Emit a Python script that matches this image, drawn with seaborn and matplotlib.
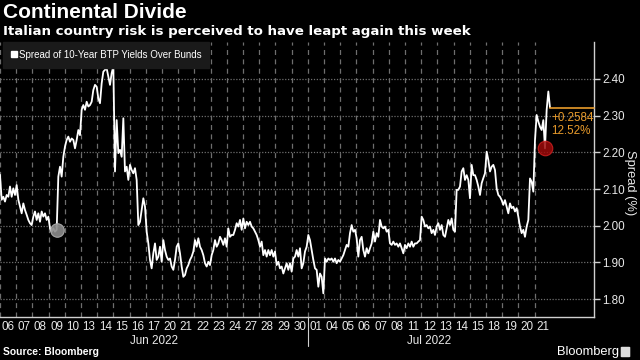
import numpy as np
import pandas as pd
import matplotlib
matplotlib.use("Agg")
import matplotlib.pyplot as plt
import matplotlib.transforms as mtransforms
from matplotlib.lines import Line2D
from matplotlib.patches import FancyBboxPatch
import seaborn as sns

# trading days shown on the x axis
day_labels = ["06", "07", "08", "09", "10", "13", "14", "15", "16", "17", "20", "21",
              "22", "23", "24", "27", "28", "29", "30",
              "01", "04", "05", "06", "07", "08", "11", "12", "13", "14", "15", "18",
              "19", "20", "21"]
month_labels = ["Jun 2022", "Jul 2022"]
month_days = [19, 15]

# intraday spread (%), evenly spaced in trading time
spread_jun_a = [
    2.139, 2.071, 2.079, 2.066, 2.084, 2.079, 2.107, 2.079, 2.102, 2.084,
    2.111, 2.071, 2.052, 2.034, 2.061, 2.043, 2.030, 2.016, 2.007, 2.002,
    2.025, 2.039, 2.016, 2.034, 2.011, 2.039, 2.025, 2.034, 2.016, 2.025,
    1.993, 1.984, 1.993, 1.984, 1.989, 2.134, 2.161, 2.134, 2.188, 2.216,
    2.234, 2.243, 2.229, 2.238, 2.234, 2.211, 2.234, 2.261, 2.247, 2.316,
    2.329, 2.316, 2.338, 2.325, 2.329, 2.338, 2.370, 2.384, 2.379, 2.347,
    2.334, 2.388, 2.420, 2.425, 2.429, 2.406, 2.384, 2.416, 2.434, 2.148,
    2.288, 2.198, 2.207, 2.188, 2.293, 2.148, 2.161, 2.125, 2.166, 2.152,
    2.143, 2.157, 2.125, 2.002, 2.011, 2.043, 2.075, 2.052, 1.984, 1.952,
    1.907, 1.884, 1.925, 1.952, 1.907, 1.916, 1.943, 1.902, 1.961, 1.934,
    1.916, 1.907, 1.911, 1.889, 1.880, 1.907, 1.943, 1.952, 1.925, 1.889,
    1.861,
]
spread_jun_b = [
    1.866, 1.884, 1.893, 1.907, 1.916, 1.930, 1.961, 1.943, 1.966, 1.943,
    1.934, 1.920, 1.898, 1.889, 1.902, 1.893, 1.920, 1.934, 1.961, 1.943,
    1.952, 1.970, 1.961, 1.948, 1.966, 1.943, 1.993, 1.970, 1.975, 1.975,
    1.989, 2.007, 1.998, 2.016, 1.989, 2.020, 1.993, 2.011, 2.002, 2.011,
    1.998, 1.993, 1.984, 1.975, 1.961, 1.943, 1.957, 1.920, 1.934, 1.916,
    1.934, 1.920, 1.934, 1.916, 1.930, 1.893, 1.902, 1.884, 1.889, 1.870,
    1.884, 1.898, 1.880, 1.898, 1.875, 1.911, 1.916, 1.934, 1.916, 1.939,
    1.884, 1.898, 1.930, 1.943, 1.975, 1.961, 1.934, 1.907, 1.884, 1.880,
    1.834, 1.870, 1.861, 1.816, 1.911, 1.902, 1.911, 1.907, 1.911, 1.902,
    1.911, 1.898, 1.907, 1.902, 1.911, 1.920, 1.934, 1.948, 1.943, 1.980,
    2.002, 1.984, 1.989, 1.966, 1.916, 1.961, 1.970, 1.934, 1.916, 1.939,
    1.925,
]
spread_jul = [
    1.939, 1.952, 1.984, 1.957, 1.980, 1.970, 2.016, 1.998, 1.993, 1.998,
    1.984, 1.989, 1.952, 1.948, 1.957, 1.948, 1.952, 1.943, 1.952, 1.939,
    1.925, 1.948, 1.939, 1.952, 1.943, 1.957, 1.943, 1.952, 1.952, 1.957,
    1.961, 2.025, 2.016, 1.998, 2.002, 1.993, 1.998, 1.980, 1.989, 1.975,
    1.998, 2.007, 1.989, 2.002, 1.975, 1.970, 1.993, 2.016, 2.002, 2.020,
    1.989, 1.984, 2.098, 2.098, 2.107, 2.148, 2.157, 2.125, 2.138, 2.125,
    2.075, 2.166, 2.138, 2.138, 2.125, 2.107, 2.084, 2.116, 2.130, 2.143,
    2.202, 2.179, 2.148, 2.161, 2.166, 2.152, 2.102, 2.084, 2.079, 2.070,
    2.057, 2.070, 2.052, 2.034, 2.061, 2.048, 2.052, 2.039, 2.048, 2.025,
    1.998, 1.980, 1.989, 1.970, 1.998, 2.016, 2.129, 2.120, 2.093, 2.234,
    2.302, 2.284, 2.270, 2.261, 2.288, 2.211, 2.316, 2.366, 2.322,
]
spread = spread_jun_a + spread_jun_b + spread_jul
session_end = 33.95          # data stops at the close of Jul 21
grey_idx = 34                # start point marker
red_idx = 327                # selected point marker
last_spread = 2.322
change_text = ["+0.2584", "12.52%"]
y_ticks = [1.80, 1.90, 2.00, 2.10, 2.20, 2.30, 2.40]

sns.set_style("dark")
plt.rcParams["font.family"] = ["Liberation Sans", "DejaVu Sans"]

fig = plt.figure(figsize=(6.4, 3.6), dpi=100, facecolor="black")
ax = fig.add_axes([0, 43 / 360, 594 / 640, 275 / 360])
ax.set_facecolor("black")
ax.grid(False)

df = pd.DataFrame({"t": np.linspace(0, session_end, len(spread)), "spread": spread})
sns.lineplot(data=df, x="t", y="spread", ax=ax, color="white", lw=1.3, legend=False, zorder=3)

x_max = 594 / 16.2
ax.set_xlim(0, x_max)
ax.set_ylim(1.7515, 2.5008)

grid_c = "#6e6e6e"
for y in y_ticks:
    ax.plot([0, x_max], [y, y], color=grid_c, lw=0.9, ls=(0, (1, 1.3)), zorder=2)
for d in range(len(day_labels)):
    ax.plot([d, d], [1.7515, 2.5008], color=grid_c, lw=0.9, ls=(0, (4, 3.5)), zorder=2)

for s in ["left", "top"]:
    ax.spines[s].set_visible(False)
for s in ["bottom", "right"]:
    ax.spines[s].set_color("#d0d0d0")
    ax.spines[s].set_linewidth(1)

ax.set_xticks(np.arange(len(day_labels)) + 0.5)
ax.set_xticklabels(day_labels)
ax.tick_params(axis="x", length=0, pad=3, labelsize=8.4, labelcolor="#e8e8e8")

ax.yaxis.tick_right()
ax.set_yticks(y_ticks)
ax.set_yticklabels([f"{v:.2f}" for v in y_ticks])
ax.tick_params(axis="y", length=4, width=1, color="#d0d0d0", pad=2,
               labelsize=8.4, labelcolor="#e8e8e8")
ax.yaxis.set_label_position("right")
ax.set_ylabel("Spread (%)", rotation=270, va="center", ha="center", color="#e8e8e8",
              fontsize=9.3)
ax.yaxis.set_label_coords(630 / 594, 0.49)
ax.set_xlabel("")

trans = mtransforms.blended_transform_factory(ax.transData, ax.transAxes)
start = 0
for lab, n in zip(month_labels, month_days):
    ax.text(start + n / 2, -0.087, lab, transform=trans, ha="center", va="center",
            color="#e8e8e8", fontsize=8.4)
    start += n
ax.plot([month_days[0], month_days[0]], [0, -0.105], transform=trans,
        color="#d0d0d0", lw=0.8, clip_on=False)

t = df["t"].to_numpy()
ax.scatter([t[grey_idx]], [spread[grey_idx]], s=95, color="#8c8c8c", alpha=0.9,
           edgecolor="#b0b0b0", lw=0.8, zorder=4)
ax.scatter([t[red_idx]], [spread[red_idx]], s=110, color="#9c0a0a", alpha=0.85,
           edgecolor="#d02020", lw=0.8, zorder=4)

orange = "#e89b2b"
ax.plot([t[-1], x_max], [last_spread, last_spread], color=orange, lw=1.2, clip_on=False, zorder=4)
ax.text(t[-1] + 0.08, 2.294, change_text[0], color=orange, fontsize=8.4, va="center", ha="left")
ax.text(t[-1] + 0.08, 2.257, change_text[1], color=orange, fontsize=8.4, va="center", ha="left")

handle = Line2D([], [], marker="s", ls="none", color="white", markersize=4.5)
leg = ax.legend([handle], ["Spread of 10-Year BTP Yields Over Bunds"], loc="upper left",
                bbox_to_anchor=(3 / 594, 1.0), borderaxespad=0, frameon=True,
                fontsize=7.0, handletextpad=0.15, borderpad=0.8, handlelength=0.7,
                fancybox=False)
leg.get_frame().set_facecolor("#1a1a1a")
leg.get_frame().set_edgecolor("#1a1a1a")
leg.get_frame().set_alpha(1)
leg.set_zorder(5)
for txt in leg.get_texts():
    txt.set_color("white")

fig.text(3 / 640, 1 - 3 / 360, "Continental Divide", color="white", fontsize=15,
         fontweight="bold", va="top", ha="left")
fig.text(3 / 640, 1 - 25 / 360, "Italian country risk is perceived to have leapt again this week",
         color="white", fontsize=9.6, fontweight="bold", va="top", ha="left",
         family=["DejaVu Sans"])
fig.text(3 / 640, 8 / 360, "Source: Bloomberg", color="white", fontsize=7.4,
         fontweight="bold", va="center", ha="left")
fig.text(619 / 640, 8 / 360, "Bloomberg", color="white", fontsize=9.3,
         va="center", ha="right")
fig.patches.append(FancyBboxPatch((622 / 640, 3.5 / 360), 7 / 640, 9 / 360,
                                  boxstyle="round,pad=0.002", transform=fig.transFigure,
                                  facecolor="#dddddd", edgecolor="none"))

fig.savefig("out.png", dpi=100, facecolor="black")
